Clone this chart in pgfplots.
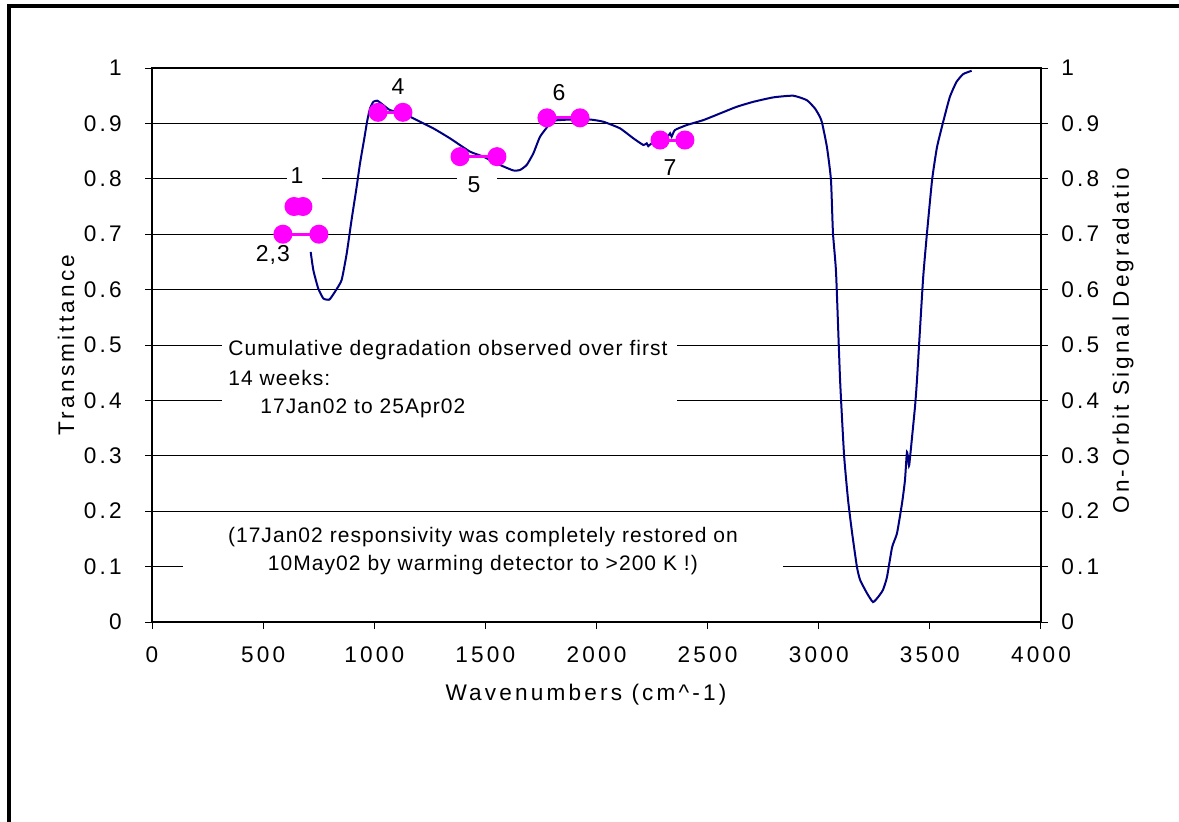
\documentclass[border=0pt]{standalone}
\usepackage{pgfplots}
\pgfplotsset{compat=1.18}
\usepackage{fontspec}
\setmainfont{Liberation Sans}[LetterSpace=5]
\newfontfamily\lblfont{Liberation Sans}[LetterSpace=14]
\definecolor{curve}{RGB}{0,0,128}
\definecolor{mag}{RGB}{255,0,255}
\begin{document}
\begin{tikzpicture}
\fontsize{10.5}{12.6}\selectfont
\begin{axis}[
  at={(76pt,99.5pt)}, anchor=south west,
  scale only axis, width=444.5pt, height=277pt,
  xmin=0, xmax=4000, ymin=0, ymax=1,
  xtick={0,500,1000,1500,2000,2500,3000,3500,4000},
  ytick={0,0.1,0.2,0.3,0.4,0.5,0.6,0.7,0.8,0.9,1},
  yticklabels={0,0.1,0.2,0.3,0.4,0.5,0.6,0.7,0.8,0.9,1},
  tick align=outside, major tick length=3.5pt,
  xtick pos=bottom, ytick pos=left,
  ytick style={draw=none},
  ymajorgrids, grid style={black, line width=0.5pt},
  axis line style={black, line width=0.6pt},
  tick style={black, line width=0.5pt},
  /pgf/number format/assume math mode=true,
  /pgf/number format/1000 sep={},
  ticklabel style={font=\lblfont\fontsize{11.3}{13.5}\selectfont},
  xticklabel style={yshift=-5pt},
  yticklabel style={xshift=-8pt},
  clip=false,
]
% white boxes interrupting gridlines
\fill[white] (axis cs:315,0.518) rectangle (axis cs:2362,0.356);
\fill[white] (axis cs:139,0.188) rectangle (axis cs:2839,0.067);
\fill[white] (axis cs:607,0.825) rectangle (axis cs:765,0.78);
\fill[white] (axis cs:1372,0.812) rectangle (axis cs:1552,0.767);

\addplot[curve, line width=1pt, smooth, tension=0.3] table {
x y
714 0.668
726 0.635
748 0.602
771 0.584
798 0.582
823 0.596
853 0.617
876 0.665
898 0.726
921 0.786
936 0.828
954 0.870
969 0.906
981 0.927
996 0.939
1014 0.941
1041 0.933
1071 0.924
1131 0.918
1191 0.906
1266 0.891
1341 0.873
1431 0.849
1491 0.840
1566 0.825
1626 0.815
1656 0.816
1686 0.825
1716 0.846
1746 0.876
1791 0.900
1806 0.905
1881 0.907
1971 0.907
2031 0.903
2106 0.891
2166 0.873
2211 0.861
2226 0.864
2233 0.859
2248 0.864
2316 0.875
2331 0.882
2338 0.876
2353 0.888
2406 0.897
2481 0.906
2556 0.918
2631 0.930
2706 0.939
2796 0.947
2885 0.950
2946 0.942
2983 0.927
3005 0.912
3015 0.901
3037 0.857
3055 0.798
3064 0.702
3078 0.630
3096 0.437
3114 0.301
3132 0.220
3150 0.161
3172 0.099
3186 0.076
3217 0.052
3244 0.036
3267 0.045
3289 0.058
3307 0.081
3330 0.135
3352 0.160
3375 0.215
3388 0.256
3397 0.307
3406 0.282
3411 0.298
3433 0.388
3442 0.437
3469 0.617
3487 0.702
3510 0.798
3532 0.857
3560 0.903
3590 0.948
3620 0.975
3650 0.989
3688 0.995
};

\pgfplotsset{magline/.style={mag, line width=1.5pt, mark=*, mark size=4pt, mark options={fill=mag, draw=mag}}}
\addplot[magline] coordinates {(639,0.75) (679,0.75)};
\addplot[magline] coordinates {(589,0.70) (751,0.70)};
\addplot[magline] coordinates {(1017,0.92) (1129,0.92)};
\addplot[magline] coordinates {(1386,0.84) (1552,0.84)};
\addplot[magline] coordinates {(1777,0.91) (1926,0.91)};
\addplot[magline] coordinates {(2286,0.87) (2398,0.87)};

\begin{scope}[every node/.style={font=\fontsize{11.5}{13.8}\selectfont}]
\node at (axis cs:652,0.805) {1};
\node at (axis cs:544,0.662) {2,3};
\node at (axis cs:1107,0.966) {4};
\node at (axis cs:1449,0.789) {5};
\node at (axis cs:1831,0.955) {6};
\node at (axis cs:2331,0.821) {7};
\end{scope}

\node[anchor=west, inner sep=0pt] at (axis cs:342,0.491) {Cumulative degradation observed over first};
\node[anchor=west, inner sep=0pt] at (axis cs:342,0.440) {14 weeks:};
\node[anchor=west, inner sep=0pt] at (axis cs:486,0.386) {17Jan02 to 25Apr02};
\node[inner sep=0pt] at (axis cs:1489,0.153) {(17Jan02 responsivity was completely restored on};
\node[inner sep=0pt] at (axis cs:1489,0.103) {10May02 by warming detector to >200 K !)};
\end{axis}

\begin{axis}[
  at={(76pt,99.5pt)}, anchor=south west,
  scale only axis, width=444.5pt, height=277pt,
  xmin=0, xmax=4000, ymin=0, ymax=1,
  xtick=\empty,
  ytick={0,0.1,0.2,0.3,0.4,0.5,0.6,0.7,0.8,0.9,1},
  yticklabels={0,0.1,0.2,0.3,0.4,0.5,0.6,0.7,0.8,0.9,1},
  ytick pos=both, yticklabel pos=right,
  tick align=center, major tick length=7pt,
  axis line style={black, line width=0.6pt},
  tick style={black, line width=0.5pt},
  /pgf/number format/assume math mode=true,
  ticklabel style={font=\lblfont\fontsize{11.3}{13.5}\selectfont},
  yticklabel style={xshift=3pt},
]
\end{axis}

\node[rotate=90, font=\lblfont\fontsize{11.3}{13.5}\selectfont] at (33pt,238pt) {Transmittance};
\node[rotate=90, font=\lblfont\fontsize{11.3}{13.5}\selectfont] at (561.5pt,240pt) {On-Orbit Signal Degradatio};
\node[font=\lblfont\fontsize{11.3}{13.5}\selectfont] at (293pt,63pt) {Wavenumbers (cm\^{}-1)};

\draw[black, line width=2pt] (4.3pt,-10pt) -- (4.3pt,407.5pt) -- (600pt,407.5pt);

\pgfresetboundingbox
\useasboundingbox (0,0) rectangle (589.5pt,410.5pt);
\end{tikzpicture}
\end{document}
